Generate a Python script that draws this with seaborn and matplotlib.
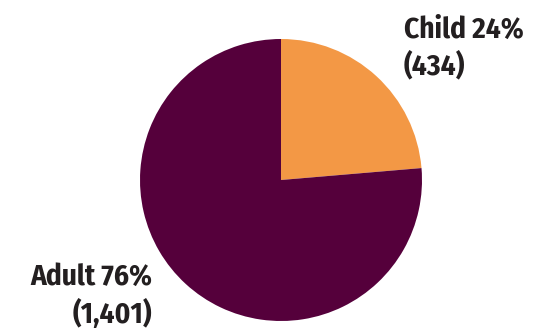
import matplotlib
matplotlib.use("Agg")
import matplotlib.pyplot as plt
import seaborn as sns

categories = ["Child", "Adult"]
counts = [434, 1401]
colors = ["#F39845", "#55003B"]

sns.set_theme(style="white")
plt.rcParams["font.family"] = ["Fira Sans Condensed", "DejaVu Sans"]

W, H = 538, 334
fig = plt.figure(figsize=(W / 100, H / 100), dpi=100)
ax = fig.add_axes([0, 0, 1, 1])

ax.pie(counts, colors=colors, startangle=90, counterclock=False,
       radius=141, center=(281, H - 180), frame=True,
       wedgeprops=dict(linewidth=0))
ax.set_xlim(0, W)
ax.set_ylim(0, H)
ax.set_aspect("equal")
ax.axis("off")

total = sum(counts)
pct = [round(c / total * 100) for c in counts]
txt = dict(fontsize=21, fontweight="bold", color="#231F20", va="baseline")

ax.text(404, H - 38, f"{categories[0]} {pct[0]}%", ha="left", **txt)
ax.text(404, H - 74, f"({counts[0]:,})", ha="left", **txt)
ax.text(152, H - 285, f"{categories[1]} {pct[1]}%", ha="right", **txt)
ax.text(152, H - 323, f"({counts[1]:,})", ha="right", **txt)

fig.savefig("out.png", dpi=100)
